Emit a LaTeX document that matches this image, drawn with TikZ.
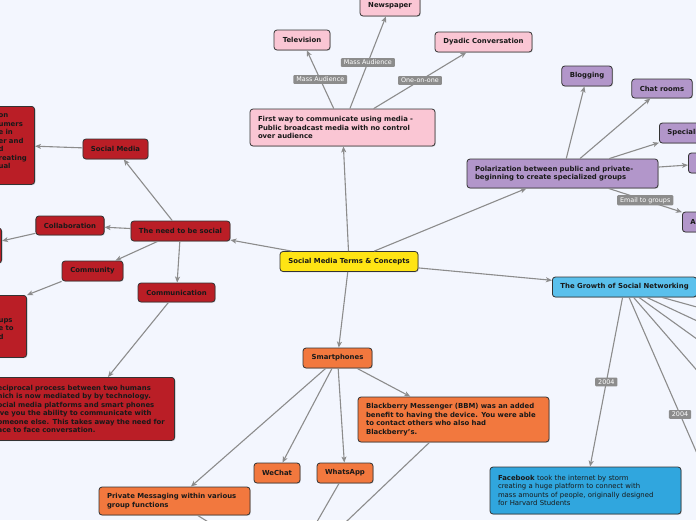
\documentclass[tikz,border=0pt]{standalone}
\usepackage{fontspec}
\setmainfont{DejaVu Sans}
\usetikzlibrary{arrows.meta,shadows}
\definecolor{bgblue}{RGB}{243,246,254}
\definecolor{rootyellow}{RGB}{255,228,20}
\definecolor{mediapink}{RGB}{250,198,212}
\definecolor{grouppurple}{RGB}{178,150,202}
\definecolor{netblue}{RGB}{90,192,236}
\definecolor{fbblue}{RGB}{48,166,222}
\definecolor{phoneorange}{RGB}{242,120,62}
\definecolor{socialred}{RGB}{186,30,38}
\definecolor{linkgrey}{RGB}{140,140,140}
\begin{document}
\begin{tikzpicture}
  [
    x=1pt,y=-1pt,
    topic/.style={draw=black!80,line width=0.8pt,rounded corners=3pt,
      text=black!90,font=\fontsize{6.9}{8.5}\selectfont\bfseries,
      inner xsep=8pt,inner ysep=2pt,
      drop shadow={shadow xshift=0.8pt,shadow yshift=-0.8pt,opacity=0.3}},
    root/.style={topic,fill=rootyellow},
    media/.style={topic,fill=mediapink},
    group/.style={topic,fill=grouppurple},
    network/.style={topic,fill=netblue},
    phone/.style={topic,fill=phoneorange},
    social/.style={topic,fill=socialred},
    para/.style={align=left},
    link/.style={draw=linkgrey,line width=1.1pt,
      -{Stealth[length=6pt,width=5pt,inset=1.5pt]}},
    tag/.style={fill=linkgrey,text=white,rounded corners=1pt,
      font=\fontsize{6.4}{7}\selectfont,inner xsep=3pt,inner ysep=2pt},
  ]
  \useasboundingbox (0,0) rectangle (696,520);
  \clip (0,0) rectangle (696,520);
  \fill[bgblue] (0,0) rectangle (696,520);

  % centre
  \node (central) at (349,261.5) [root,minimum width=138pt,minimum height=20pt] {Social Media Terms \& Concepts};

  % broadcast media
  \node (broadcast) at (342.5,127.5) [media,para,text width=169pt,minimum height=37pt] {First way to communicate using media -\\Public broadcast media with no control\\over audience};
  \node (television) at (302,40) [media,minimum width=56pt,minimum height=20pt] {Television};
  \node (newspaper) at (390,6) [media,minimum width=60pt,minimum height=20pt] {Newspaper};
  \node (dyadic) at (483.5,42) [media,minimum width=97pt,minimum height=20pt] {Dyadic Conversation};

  % groups
  \node (polar) at (562.5,173.5) [group,para,text width=175pt,minimum height=29pt] {Polarization between public and private-\\beginning to create specialized groups};
  \node (blogging) at (587,76) [group,minimum width=50pt,minimum height=20pt] {Blogging};
  \node (chatrooms) at (662,88.5) [group,minimum width=60pt,minimum height=19pt] {Chat rooms};
  \node (special) at (659,133) [group,anchor=west,para,text width=44pt,minimum height=20pt] {Speciali};
  \node (grpd) at (688,163) [group,anchor=west,minimum width=60pt,minimum height=20pt] {};
  \node (grpa) at (682,222) [group,anchor=west,para,text width=44pt,minimum height=20pt] {A};

  % social networking
  \node (growth) at (552,287) [network,anchor=west,minimum height=20pt] {The Growth of Social Networking};
  \node (facebook) at (585.5,490.5) [topic,fill=fbblue,para,text width=175pt,minimum height=47pt,font=\fontsize{6.9}{8.5}\selectfont] {\textbf{Facebook} took the internet by storm\\creating a huge platform to connect with\\mass amounts of people, originally designed\\for Harvard Students};
  \coordinate (net1) at (740,319);
  \coordinate (net2) at (740,341);
  \coordinate (net3) at (740,370);
  \coordinate (net4) at (740,420);
  \coordinate (net5) at (756.5,590);

  % smartphones
  \node (phones) at (337.5,358) [phone,minimum width=69pt,minimum height=20pt] {Smartphones};
  \node (bbm) at (453.5,419.5) [phone,para,text width=175pt,minimum height=45pt] {Blackberry Messenger (BBM) was an added\\benefit to having the device. You were able\\to contact others who also had\\Blackberry's.};
  \node (wechat) at (277,473) [phone,minimum width=46pt,minimum height=20pt] {WeChat};
  \node (whatsapp) at (345,473) [phone,minimum width=56pt,minimum height=20pt] {WhatsApp};
  \node (privmsg) at (174.5,501) [phone,para,text width=135pt,minimum height=28pt] {Private Messaging within various\\group functions};
  \coordinate (whatsend) at (295,560);
  \coordinate (bbmend) at (306,560);
  \coordinate (privend) at (242,543);

  % the need to be social
  \node (need) at (180.5,231) [social,minimum width=99pt,minimum height=20pt] {The need to be social};
  \node (socialmedia) at (115.5,149) [social,minimum width=65pt,minimum height=20pt] {Social Media};
  \node (collab) at (70,225.5) [social,minimum width=68pt,minimum height=19pt] {Collaboration};
  \node (community) at (92.5,271) [social,minimum width=61pt,minimum height=20pt] {Community};
  \node (communication) at (176.5,292.5) [social,minimum width=77pt,minimum height=19pt] {Communication};
  \node (smnote) at (35,106) [social,anchor=north east,para,text width=28pt,minimum height=78pt] {on\\umers\\e in\\er and\\d\\reating\\ual\\\mbox{}};
  \node (collabnote) at (2,245.5) [social,anchor=east,minimum width=40pt,minimum height=35pt] {};
  \node (commnote) at (27,295) [social,anchor=north east,para,text width=20pt,minimum height=62pt] {\mbox{}\\\mbox{}\\ups\\e to\\d\\\mbox{}};
  \node (talknote) at (175,377) [social,anchor=north east,para,text width=169pt,minimum height=63pt] {eciprocal process between two humans\\hich is now mediated by by technology.\\ocial media platforms and smart phones\\ive you the ability to communicate with\\omeone else. This takes away the need for\\ace to face conversation.};

  % connectors
  \draw[link] (central) -- (broadcast);
  \draw[link] (broadcast) -- node[tag] {Mass Audience} (television);
  \draw[link] (broadcast) -- node[tag] {Mass Audience} (newspaper);
  \draw[link] (broadcast) -- node[tag] {One-on-one} (dyadic);

  \draw[link] (central) -- (polar);
  \draw[link] (polar) -- (blogging);
  \draw[link] (polar) -- (chatrooms);
  \draw[link] (polar) -- (special);
  \draw[link] (polar) -- (grpd);
  \draw[link] (polar) -- node[tag] {Email to groups} (grpa);

  \draw[link] (central) -- (growth);
  \draw[link] (growth) -- node[tag] {2004} (facebook);
  \draw[link] (growth) -- node[tag,pos=0.4] {2004} (net5);
  \draw[link] (growth) -- (net1);
  \draw[link] (growth) -- (net2);
  \draw[link] (growth) -- (net3);
  \draw[link] (growth) -- (net4);

  \draw[link] (central) -- (phones);
  \draw[link] (phones) -- (privmsg);
  \draw[link] (phones) -- (wechat);
  \draw[link] (phones) -- (whatsapp);
  \draw[link] (phones) -- (bbm);
  \draw[link] (whatsapp) -- (whatsend);
  \draw[link] (bbm) -- (bbmend);
  \draw[link] (privmsg) -- (privend);

  \draw[link] (central) -- (need);
  \draw[link] (need) -- (socialmedia);
  \draw[link] (socialmedia) -- (smnote);
  \draw[link] (need) -- (collab);
  \draw[link] (collab) -- (collabnote);
  \draw[link] (need) -- (community);
  \draw[link] (community.south west) -- (commnote.north east);
  \draw[link] (need) -- (communication);
  \draw[link] (communication) -- (talknote);
\end{tikzpicture}
\end{document}
